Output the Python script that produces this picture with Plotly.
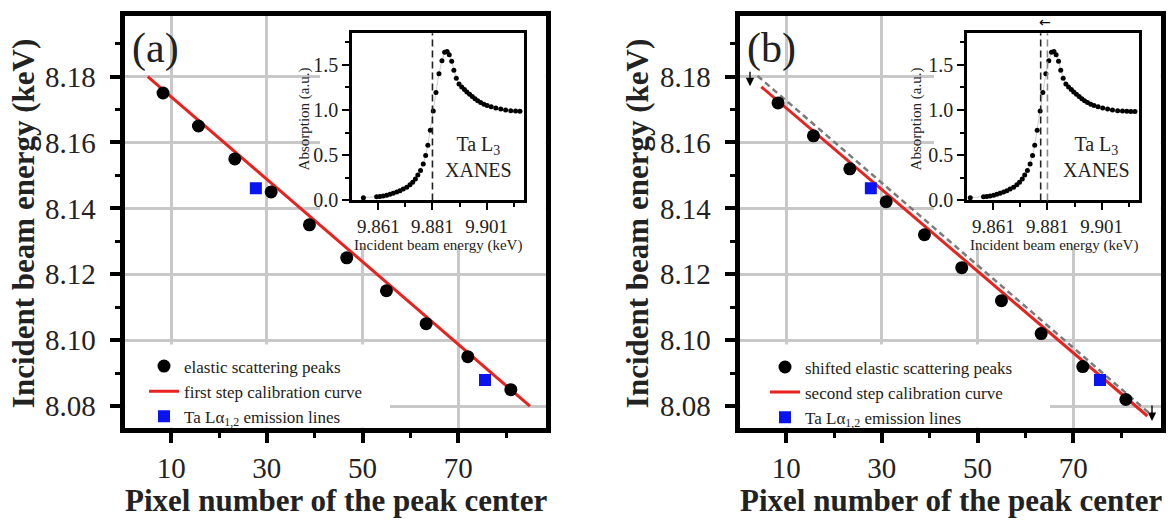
import plotly.graph_objects as go

W, H = 1173, 521
SERIF = "Liberation Serif"

# ---------------- data ----------------
pixel_a = [8.3, 15.7, 23.3, 30.9, 38.9, 46.7, 55.0, 63.3, 72.0, 81.0]
energy_a = [8.175, 8.165, 8.155, 8.145, 8.135, 8.125, 8.115, 8.105, 8.095, 8.085]
pixel_b = [8.3, 15.7, 23.3, 30.9, 38.9, 46.7, 55.0, 63.3, 72.0, 81.0]
energy_b = [8.172, 8.162, 8.152, 8.142, 8.132, 8.122, 8.112, 8.102, 8.092, 8.082]
emission_pixel = [27.7, 75.6]
emission_energy = [8.1461, 8.0879]
cal1_pixel = [5.1, 85.0]
cal1_energy = [8.1800, 8.0800]
cal2_pixel = [4.8, 85.5]
cal2_energy = [8.1769, 8.0770]
prev_pixel = [4.0, 85.8]
prev_energy = [8.1802, 8.0780]

xanes_energy_a = [9.8555, 9.8604, 9.8616, 9.8628, 9.8641, 9.8653, 9.8665, 9.8678, 9.8690, 9.8702,
                  9.8715, 9.8727, 9.8737, 9.8747, 9.8756, 9.8766, 9.8776, 9.8785, 9.8793, 9.8802,
                  9.8813, 9.8823, 9.8834, 9.8845, 9.8855, 9.8864, 9.8872, 9.8881, 9.8889, 9.8898,
                  9.8908, 9.8918, 9.8928, 9.8937, 9.8947, 9.8957, 9.8967, 9.8977, 9.8988, 9.9000,
                  9.9012, 9.9027, 9.9044, 9.9062, 9.9080, 9.9099, 9.9117, 9.9133]
xanes_abs_a = [0.029, 0.040, 0.043, 0.050, 0.058, 0.068, 0.079, 0.094, 0.108, 0.126,
               0.147, 0.173, 0.201, 0.237, 0.281, 0.331, 0.403, 0.496, 0.612, 0.777,
               0.989, 1.194, 1.403, 1.547, 1.640, 1.647, 1.612, 1.540, 1.442, 1.353,
               1.288, 1.255, 1.227, 1.201, 1.176, 1.151, 1.126, 1.104, 1.083, 1.065,
               1.050, 1.036, 1.022, 1.011, 1.000, 0.993, 0.989, 0.986]
xanes_energy_b = [9.8525, 9.8574, 9.8586, 9.8598, 9.8611, 9.8623, 9.8635, 9.8648, 9.8660, 9.8672,
                  9.8685, 9.8697, 9.8707, 9.8717, 9.8726, 9.8736, 9.8746, 9.8755, 9.8763, 9.8772,
                  9.8783, 9.8793, 9.8804, 9.8815, 9.8825, 9.8834, 9.8842, 9.8851, 9.8859, 9.8868,
                  9.8878, 9.8888, 9.8898, 9.8907, 9.8917, 9.8927, 9.8937, 9.8947, 9.8958, 9.8970,
                  9.8982, 9.8997, 9.9014, 9.9032, 9.9050, 9.9069, 9.9087, 9.9103, 9.9118, 9.9133]
xanes_abs_b = [0.029, 0.040, 0.043, 0.050, 0.058, 0.068, 0.079, 0.094, 0.108, 0.126,
               0.147, 0.173, 0.201, 0.237, 0.281, 0.331, 0.403, 0.496, 0.612, 0.777,
               0.989, 1.194, 1.403, 1.547, 1.640, 1.647, 1.612, 1.540, 1.442, 1.353,
               1.288, 1.255, 1.227, 1.201, 1.176, 1.151, 1.126, 1.104, 1.083, 1.065,
               1.050, 1.036, 1.022, 1.011, 1.000, 0.993, 0.989, 0.986, 0.985, 0.984]
edge_a = 9.881
edge_b_new = 9.8785
edge_b_old = 9.881

x_ticks = [10, 30, 50, 70]
x_minor = [20, 40, 60, 80]
y_ticks = [8.08, 8.10, 8.12, 8.14, 8.16, 8.18]
y_minor = [8.09, 8.11, 8.13, 8.15, 8.17, 8.19]
ins_x_ticks = [9.861, 9.881, 9.901]
ins_x_minor = [9.851, 9.871, 9.891, 9.911]
ins_y_ticks = [0.0, 0.5, 1.0, 1.5]
ins_y_minor = [0.25, 0.75, 1.25, 1.75]

# ---------------- helpers ----------------
def px(x):
    return x / W

def py(y):
    return 1 - y / H

X_RANGE = [0.4, 88.3]
Y_RANGE = [8.0735, 8.1984]
LEFT_A, LEFT_B, PW = 125.25, 740.25, 420.5
TOP, BOT = 16.25, 436.75

def xdata(pix, left):
    return X_RANGE[0] + (pix - left) / PW * (X_RANGE[1] - X_RANGE[0])

def ydata(pix):
    return Y_RANGE[0] + (BOT - pix) / (BOT - TOP) * (Y_RANGE[1] - Y_RANGE[0])

RED = "#e8231f"
BLUE = "#0a14f0"
GRID = "#c8c8c8"
TXT = "#222222"

fig = go.Figure()

# Panel (a)
fig.add_trace(go.Scatter(x=cal1_pixel, y=cal1_energy, mode="lines", line=dict(color=RED, width=3),
                         name="first step calibration curve", xaxis="x", yaxis="y", legend="legend", legendrank=2))
fig.add_trace(go.Scatter(x=pixel_a, y=energy_a, mode="markers", marker=dict(color="black", size=13),
                         name="elastic scattering peaks", xaxis="x", yaxis="y", legend="legend", legendrank=1))
fig.add_trace(go.Scatter(x=emission_pixel, y=emission_energy, mode="markers",
                         marker=dict(color=BLUE, size=12, symbol="square"),
                         name="Ta Lα<sub>1,2</sub> emission lines", xaxis="x", yaxis="y", legend="legend", legendrank=3))

# Panel (b)
fig.add_trace(go.Scatter(x=prev_pixel, y=prev_energy, mode="lines", line=dict(color="#7a7a7a", width=2.5, dash="6px,4px"),
                         showlegend=False, xaxis="x2", yaxis="y2"))
fig.add_trace(go.Scatter(x=cal2_pixel, y=cal2_energy, mode="lines", line=dict(color=RED, width=3),
                         name="second step calibration curve", xaxis="x2", yaxis="y2", legend="legend2", legendrank=2))
fig.add_trace(go.Scatter(x=pixel_b, y=energy_b, mode="markers", marker=dict(color="black", size=13),
                         name="shifted elastic scattering peaks", xaxis="x2", yaxis="y2", legend="legend2", legendrank=1))
fig.add_trace(go.Scatter(x=emission_pixel, y=emission_energy, mode="markers",
                         marker=dict(color=BLUE, size=12, symbol="square"),
                         name="Ta Lα<sub>1,2</sub> emission lines", xaxis="x2", yaxis="y2", legend="legend2", legendrank=3))

# Insets
fig.add_trace(go.Scatter(x=xanes_energy_a, y=xanes_abs_a, mode="lines+markers",
                         line=dict(color="#cccccc", width=1), marker=dict(color="black", size=5),
                         showlegend=False, xaxis="x3", yaxis="y3"))
fig.add_trace(go.Scatter(x=xanes_energy_b, y=xanes_abs_b, mode="lines+markers",
                         line=dict(color="#cccccc", width=1), marker=dict(color="black", size=5),
                         showlegend=False, xaxis="x4", yaxis="y4"))

# ---------------- axes ----------------
main_dom_a = [px(LEFT_A), px(LEFT_A + PW)]
main_dom_b = [px(LEFT_B), px(LEFT_B + PW)]
main_dom_y = [py(BOT), py(TOP)]
ins_dom_a = [px(352), px(523.75)]
ins_dom_b = [px(967), px(1138.75)]
ins_dom_y = [py(204.75), py(34)]

def main_x(anchor, dom):
    return dict(domain=dom, anchor=anchor, range=X_RANGE, tickmode="array", tickvals=x_ticks,
                ticks="outside", ticklen=11, tickwidth=3.5, tickcolor="black",
                showline=True, linewidth=4.5, linecolor="black", mirror=True,
                showgrid=True, gridcolor=GRID, gridwidth=2.5, zeroline=False,
                tickfont=dict(family=SERIF, size=29, color=TXT),
                minor=dict(tickmode="array", tickvals=x_minor, ticks="outside", ticklen=6,
                           tickwidth=3, tickcolor="black", showgrid=False))

def main_y(anchor):
    return dict(domain=main_dom_y, anchor=anchor, range=Y_RANGE, tickmode="array",
                tickvals=y_ticks, tickformat=".2f",
                ticks="outside", ticklen=11, tickwidth=3.5, tickcolor="black", ticklabelstandoff=8,
                showline=True, linewidth=4.5, linecolor="black", mirror=True,
                showgrid=True, gridcolor=GRID, gridwidth=2.5, zeroline=False,
                tickfont=dict(family=SERIF, size=29, color=TXT),
                minor=dict(tickmode="array", tickvals=y_minor, ticks="outside", ticklen=6,
                           tickwidth=3, tickcolor="black", showgrid=False))

def ins_x(anchor, dom):
    return dict(domain=dom, anchor=anchor, range=[9.8513, 9.9147], tickmode="array",
                tickvals=ins_x_ticks, tickformat=".3f",
                ticks="outside", ticklen=7, tickwidth=2, tickcolor="black",
                showline=True, linewidth=2.5, linecolor="black", mirror=True,
                showgrid=False, zeroline=False,
                tickfont=dict(family=SERIF, size=19, color=TXT),
                minor=dict(tickmode="array", tickvals=ins_x_minor, ticks="outside", ticklen=4,
                           tickwidth=2, tickcolor="black", showgrid=False))

def ins_y(anchor):
    return dict(domain=ins_dom_y, anchor=anchor, range=[0, 1.85], tickmode="array",
                tickvals=ins_y_ticks, tickformat=".1f",
                ticks="outside", ticklen=7, tickwidth=2, tickcolor="black",
                showline=True, linewidth=2.5, linecolor="black", mirror=True,
                showgrid=False, zeroline=False,
                tickfont=dict(family=SERIF, size=20, color=TXT),
                minor=dict(tickmode="array", tickvals=ins_y_minor, ticks="outside", ticklen=4,
                           tickwidth=2, tickcolor="black", showgrid=False))

legend_common = dict(xanchor="left", yanchor="top", bgcolor="rgba(255,255,255,0)",
                     font=dict(family=SERIF, size=17, color=TXT), tracegroupgap=0,
                     itemwidth=30, traceorder="normal", maxheight=200)

fig.update_layout(
    width=W, height=H, margin=dict(l=0, r=0, t=0, b=0),
    paper_bgcolor="white", plot_bgcolor="white",
    font=dict(family=SERIF, color=TXT),
    xaxis=main_x("y", main_dom_a), yaxis=main_y("x"),
    xaxis2=main_x("y2", main_dom_b), yaxis2=main_y("x2"),
    xaxis3=ins_x("y3", ins_dom_a), yaxis3=ins_y("x3"),
    xaxis4=ins_x("y4", ins_dom_b), yaxis4=ins_y("x4"),
    legend=dict(x=px(144), y=py(356), **legend_common),
    legend2=dict(x=px(765), y=py(357), **legend_common),
)

# white panels masking the grid behind insets and legends (between grid and traces)
masks = [
    ("x", "y", xdata(320, LEFT_A), X_RANGE[1] + 1, ydata(252), Y_RANGE[1] + 0.01),
    ("x", "y", X_RANGE[0] - 1, xdata(390, LEFT_A), Y_RANGE[0] - 0.01, ydata(352)),
    ("x2", "y2", xdata(934, LEFT_B), X_RANGE[1] + 1, ydata(252), Y_RANGE[1] + 0.01),
    ("x2", "y2", X_RANGE[0] - 1, xdata(1050, LEFT_B), Y_RANGE[0] - 0.01, ydata(352)),
]
for xr, yr, x0, x1, y0, y1 in masks:
    fig.add_shape(type="rect", xref=xr, yref=yr, x0=x0, x1=x1, y0=y0, y1=y1,
                  fillcolor="white", line=dict(width=0), layer="between")

# dashed edge markers in insets
fig.add_shape(type="line", xref="x3", yref="y3 domain", x0=edge_a, x1=edge_a, y0=0, y1=1,
              line=dict(color="#222222", width=1.6, dash="7px,4px"))
fig.add_shape(type="line", xref="x4", yref="y4 domain", x0=edge_b_new, x1=edge_b_new, y0=0, y1=1,
              line=dict(color="#222222", width=1.6, dash="7px,4px"))
fig.add_shape(type="line", xref="x4", yref="y4 domain", x0=edge_b_old, x1=edge_b_old, y0=0, y1=1,
              line=dict(color="#8a8a8a", width=1.6, dash="7px,4px"))

ann = []
def A(text, x, y, size, bold=False, angle=0, family=SERIF, color=TXT):
    ann.append(dict(text=f"<b>{text}</b>" if bold else text, x=px(x), y=py(y), xref="paper", yref="paper",
                    xanchor="center", yanchor="middle", showarrow=False, textangle=angle,
                    font=dict(family=family, size=size, color=color)))

def ARROW(x, y, dy):
    ann.append(dict(text="", x=px(x), y=py(y), xref="paper", yref="paper", showarrow=True,
                    ax=0, ay=-dy, arrowhead=2, arrowsize=1.2, arrowwidth=1.4, arrowcolor="black"))

A("(a)", 155, 50, 42)
A("(b)", 771, 50, 42)
A("Pixel number of the peak center", 335.5, 511, 31, bold=True)
A("Pixel number of the peak center", 950.5, 511, 31, bold=True)
A("Incident beam energy (keV)", 23, 229, 31, bold=True, angle=-90)
A("Incident beam energy (keV)", 637, 229, 31, bold=True, angle=-90)
A("Incident beam energy (keV)", 438, 251, 15)
A("Incident beam energy (keV)", 1054, 251, 15)
A("Absorption (a.u.)", 304, 122, 15, angle=-90)
A("Absorption (a.u.)", 916, 122, 15, angle=-90)
A("Ta L<sub>3</sub><br>XANES", 478, 160, 20)
A("Ta L<sub>3</sub><br>XANES", 1096, 160, 20)
ARROW(750, 88, 16)
ARROW(1152, 430, 17)
A("←", 1045, 22, 14, family="DejaVu Sans", color="black")
fig.update_layout(annotations=ann)

fig.write_html("out.html")
